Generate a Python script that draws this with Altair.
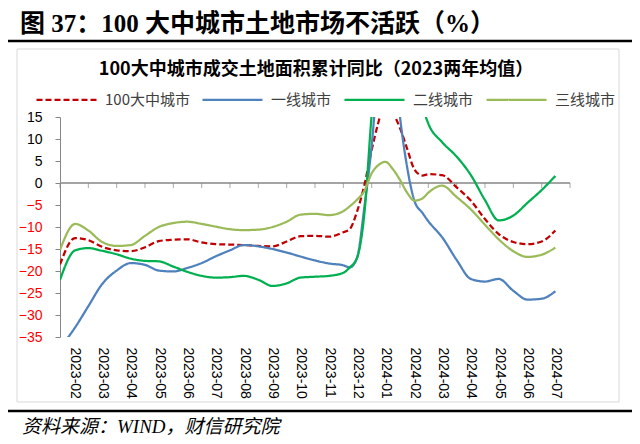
import json
import calendar
import altair as alt
import pandas as pd

# ---------------- data ----------------
months = ["2023-02", "2023-03", "2023-04", "2023-05", "2023-06", "2023-07",
          "2023-08", "2023-09", "2023-10", "2023-11", "2023-12", "2024-01",
          "2024-02", "2024-03", "2024-04", "2024-05", "2024-06", "2024-07"]

dates = ["2023-02-01", "2023-02-16", "2023-03-01", "2023-03-16", "2023-04-01", "2023-04-16",
         "2023-05-01", "2023-05-16", "2023-06-01", "2023-06-16", "2023-07-01", "2023-07-16",
         "2023-08-01", "2023-08-16", "2023-09-01", "2023-09-16", "2023-10-01", "2023-10-16",
         "2023-11-01", "2023-11-16", "2023-12-01", "2023-12-08", "2023-12-16", "2023-12-24",
         "2024-01-01", "2024-01-08", "2024-01-16", "2024-01-24", "2024-02-01", "2024-02-08",
         "2024-02-16", "2024-02-24", "2024-03-01", "2024-03-16", "2024-04-01", "2024-04-16",
         "2024-05-01", "2024-05-16", "2024-06-01", "2024-06-16", "2024-07-01", "2024-07-16"]

series_names = ["100大中城市", "一线城市", "二线城市", "三线城市"]

v_top100 = [-18.5, -12.5, -13.0, -14.5, -15.3, -15.5, -14.6, -13.2, -12.9, -12.8,
            -13.5, -13.9, -14.0, -14.1, -14.3, -14.4, -13.3, -12.1, -12.0, -12.2,
            -11.2, -10.5, -6.5, -0.5, 7.5, 13.5, 18.5, 16.0, 12.5, 8.0,
            3.0, 1.7, 2.0, 1.8, -1.0, -4.0, -8.2, -11.6, -13.4, -13.9,
            -13.3, -10.8]

v_tier1 = [-37.5, -32.8, -28.0, -23.0, -19.9, -18.2, -18.6, -19.9, -20.1, -19.3,
           -18.2, -16.7, -15.3, -14.1, -14.4, -15.0, -15.8, -16.7, -17.6, -18.3,
           -18.7, -19.2, -17.0, -5.5, 8.5, 25.0, 35.0, 32.0, 15.0, 4.0,
           -4.2, -6.8, -8.7, -12.3, -17.5, -21.8, -22.4, -21.8, -24.5, -26.5,
           -26.3, -24.6]

v_tier2 = [-22.0, -15.3, -14.8, -15.4, -16.2, -17.2, -17.7, -17.8, -19.0, -20.2,
           -21.1, -21.5, -21.4, -21.1, -22.0, -23.4, -22.8, -21.5, -21.3, -21.1,
           -20.4, -19.2, -17.0, -7.0, 15.5, 30.0, 38.0, 40.0, 38.0, 33.0,
           26.0, 17.5, 13.5, 9.3, 6.0, 1.8, -3.9, -8.5, -7.4, -4.5,
           -1.6, 1.6]

v_tier3 = [-15.2, -9.3, -10.8, -13.4, -14.3, -14.1, -12.0, -10.0, -9.1, -8.8,
           -9.3, -9.9, -10.5, -10.7, -10.6, -10.0, -8.8, -7.2, -7.0, -7.3,
           -6.4, -5.3, -3.8, -1.8, 2.2, 4.0, 4.8, 3.2, 0.7, -2.1,
           -4.0, -3.5, -2.2, -0.6, -3.2, -6.0, -9.5, -12.8, -15.5, -16.8,
           -16.3, -14.7]

y_ticks = [-35, -30, -25, -20, -15, -10, -5, 0, 5, 10, 15]

main_title = "图 37：100 大中城市土地市场不活跃（%）"
sub_title = "100大中城市成交土地面积累计同比（2023两年均值）"
source_note = "资料来源：WIND，财信研究院"

colors = ["#C00000", "#4F81BD", "#00B050", "#9BBB59"]
dashes = [[6, 3], [1, 0], [1, 0], [1, 0]]


def month_pos(d):
    y, m, day = map(int, d.split("-"))
    idx = (y - 2023) * 12 + (m - 2)
    return idx + (day - 1) / calendar.monthrange(y, m)[1]


rows = []
for name, vals in zip(series_names, [v_top100, v_tier1, v_tier2, v_tier3]):
    for d, v in zip(dates, vals):
        rows.append({"date": d, "t": month_pos(d), "series": name, "value": v})
df = pd.DataFrame(rows)

tick_df = pd.DataFrame({"t": list(range(len(months) + 1)), "value": 0})
zero_df = pd.DataFrame({"value": [0]})
one = alt.Data(values=[{"k": 1}])

# ---------------- scales / axes ----------------
x_scale = alt.Scale(domain=[0, len(months)], nice=False, zero=False)
y_scale = alt.Scale(domain=[-35, 15], nice=False, zero=False)

x_axis = alt.Axis(
    values=[k + 0.5 for k in range(len(months))],
    labelExpr=json.dumps(months, ensure_ascii=False) + "[floor(datum.value)]",
    labelAngle=90, ticks=False, domain=False, grid=False, labelPadding=10,
    labelFontSize=14, labelFont="Liberation Sans", labelColor="#000000",
    labelOverlap=False, labelFlush=False, title=None,
)
y_axis = alt.Axis(
    values=y_ticks, title=None, grid=False, domainColor="#868686", tickColor="#868686",
    tickSize=5, labelPadding=13, labelFontSize=14, labelFont="Liberation Sans",
    labelOverlap=False, labelFlush=False,
    labelColor={"condition": {"test": "datum.value < 0", "value": "#FF0000"}, "value": "#000000"},
)

legend_kw = dict(
    orient="none", legendX=-25, legendY=-49, direction="horizontal", title=None,
    symbolType="stroke", symbolSize=3600, symbolStrokeWidth=2.25,
    labelFontSize=15, labelFont="Noto Sans CJK SC", labelColor="#404040",
    labelOffset=7, columnPadding=8, padding=0,
)

# ---------------- layers ----------------
frame = alt.Chart(one).mark_rect(fillOpacity=0, stroke="#D9D9D9", strokeWidth=1).encode(
    x=alt.value(-43), x2=alt.value(559), y=alt.value(-68), y2=alt.value(285))
rule_top = alt.Chart(one).mark_rule(color="black", strokeWidth=2.5).encode(
    x=alt.value(-52), x2=alt.value(572), y=alt.value(-76))
rule_bottom = alt.Chart(one).mark_rule(color="black", strokeWidth=2.5).encode(
    x=alt.value(-52), x2=alt.value(572), y=alt.value(294))
title_text = alt.Chart(one).mark_text(
    align="left", baseline="alphabetic", fontSize=25, fontWeight="bold",
    font="Liberation Serif, Noto Sans CJK SC", color="#000000").encode(
    x=alt.value(-40), y=alt.value(-85), text=alt.value(main_title))
subtitle_text = alt.Chart(one).mark_text(
    align="center", baseline="middle", fontSize=18, fontWeight="bold",
    font="Noto Sans CJK SC", color="#000000").encode(
    x=alt.value(256), y=alt.value(-47), text=alt.value(sub_title))
source_text = alt.Chart(one).mark_text(
    align="left", baseline="middle", fontSize=19, fontStyle="italic",
    font="Liberation Serif, Noto Sans CJK SC", color="#000000").encode(
    x=alt.value(-38), y=alt.value(310), text=alt.value(source_note))

zero_rule = alt.Chart(zero_df).mark_rule(color="#868686", strokeWidth=1.5).encode(
    y=alt.Y("value:Q", scale=y_scale, axis=y_axis))
ticks = alt.Chart(tick_df).mark_tick(
    orient="vertical", size=5, thickness=1, color="#868686", yOffset=2.5).encode(
    x=alt.X("t:Q", scale=x_scale, axis=x_axis),
    y=alt.Y("value:Q", scale=y_scale, axis=y_axis))

lines = alt.Chart(df).mark_line(interpolate="monotone", clip=True, strokeWidth=2.25).encode(
    x=alt.X("t:Q", scale=x_scale, axis=x_axis),
    y=alt.Y("value:Q", scale=y_scale, axis=y_axis),
    color=alt.Color("series:N", scale=alt.Scale(domain=series_names, range=colors),
                    legend=alt.Legend(**legend_kw)),
    strokeDash=alt.StrokeDash("series:N", scale=alt.Scale(domain=series_names, range=dashes),
                              legend=alt.Legend(**legend_kw)),
)

chart = alt.layer(
    frame, rule_top, rule_bottom, title_text, subtitle_text, source_text,
    zero_rule, ticks, lines,
).properties(
    width=510, height=220,
    autosize=alt.AutoSizeParams(type="none"),
    padding={"left": 52, "top": 109, "right": 62, "bottom": 99},
    background="white",
).configure_view(strokeWidth=0)

chart.save("out.html", embed_options={"renderer": "svg", "actions": False})
